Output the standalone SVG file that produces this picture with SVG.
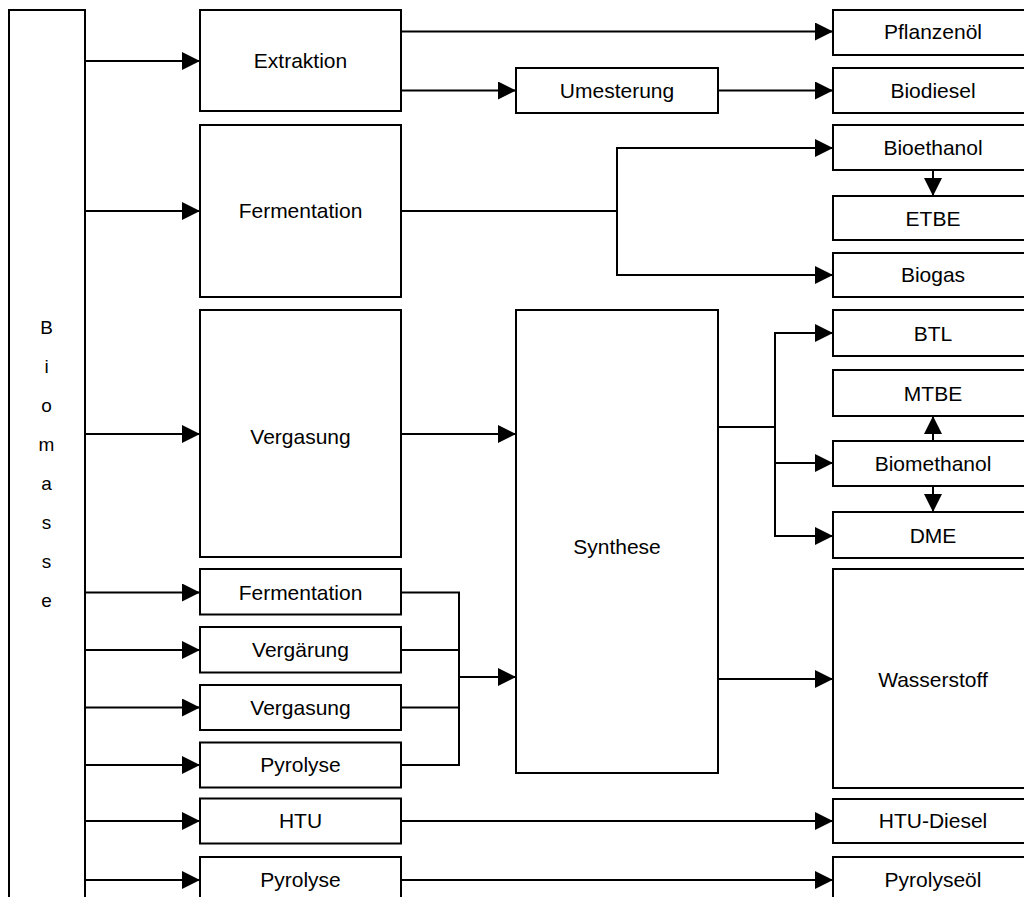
<svg xmlns="http://www.w3.org/2000/svg" width="1024" height="897" viewBox="0 0 1024 897">
<style>
.box{fill:#fff;stroke:#000;stroke-width:2}
.lbl{font-family:"Liberation Sans",Arial,sans-serif;font-size:21px;fill:#000;text-anchor:middle}
.bio{font-family:"Liberation Sans",Arial,sans-serif;font-size:19px;fill:#000;text-anchor:middle}
.c{fill:none;stroke:#000;stroke-width:2}
.a{marker-end:url(#arr)}
</style>
<defs>
<marker id="arr" markerUnits="userSpaceOnUse" markerWidth="18" markerHeight="18" refX="18" refY="9" orient="auto" viewBox="0 0 18 18">
<path d="M0,0 L18,9 L0,18 Z" fill="#000"/>
</marker>
</defs>
<rect width="1024" height="897" fill="#fff"/>

<g id="connectors">
<path class="c a" d="M85,61 H200"/>
<path class="c a" d="M85,211 H200"/>
<path class="c a" d="M85,434 H200"/>
<path class="c a" d="M85,592.5 H200"/>
<path class="c a" d="M85,650 H200"/>
<path class="c a" d="M85,707.5 H200"/>
<path class="c a" d="M85,765 H200"/>
<path class="c a" d="M85,821 H200"/>
<path class="c a" d="M85,880 H200"/>
<path class="c a" d="M401,31.5 H833"/>
<path class="c a" d="M401,90.5 H516"/>
<path class="c a" d="M718,90.5 H833"/>
<path class="c a" d="M401,211 H617 V148 H833"/>
<path class="c a" d="M617,211 V275 H833"/>
<path class="c a" d="M933,170 V196"/>
<path class="c a" d="M401,434 H516"/>
<path class="c" d="M718,427 H775"/>
<path class="c a" d="M775,463 V333 H833"/>
<path class="c a" d="M775,463 H833"/>
<path class="c a" d="M775,463 V536 H833"/>
<path class="c a" d="M933,441 V416"/>
<path class="c a" d="M933,486 V512"/>
<path class="c" d="M401,592.5 H459 V765 H401"/>
<path class="c" d="M401,650 H459"/>
<path class="c" d="M401,707.5 H459"/>
<path class="c a" d="M459,677 H516"/>
<path class="c a" d="M718,679 H833"/>
<path class="c a" d="M401,821 H833"/>
<path class="c a" d="M401,880 H833"/>
</g>

<g id="biomasse">
<rect class="box" x="9" y="10" width="76" height="900"/>
<text class="bio" x="46.5" y="334">B</text>
<text class="bio" x="46.5" y="373">i</text>
<text class="bio" x="46.5" y="412">o</text>
<text class="bio" x="46.5" y="451">m</text>
<text class="bio" x="46.5" y="490">a</text>
<text class="bio" x="46.5" y="529">s</text>
<text class="bio" x="46.5" y="568">s</text>
<text class="bio" x="46.5" y="607">e</text>
</g>

<g id="extraktion"><rect class="box" x="200" y="10" width="201" height="101"/><text class="lbl" x="300.5" y="68">Extraktion</text></g>
<g id="fermentation1"><rect class="box" x="200" y="125" width="201" height="172"/><text class="lbl" x="300.5" y="218">Fermentation</text></g>
<g id="vergasung1"><rect class="box" x="200" y="310" width="201" height="247"/><text class="lbl" x="300.5" y="444">Vergasung</text></g>
<g id="fermentation2"><rect class="box" x="200" y="569" width="201" height="45.5"/><text class="lbl" x="300.5" y="599.5">Fermentation</text></g>
<g id="vergaerung"><rect class="box" x="200" y="627" width="201" height="45.5"/><text class="lbl" x="300.5" y="657">Vergärung</text></g>
<g id="vergasung2"><rect class="box" x="200" y="685" width="201" height="45"/><text class="lbl" x="300.5" y="714.5">Vergasung</text></g>
<g id="pyrolyse1"><rect class="box" x="200" y="742.5" width="201" height="45"/><text class="lbl" x="300.5" y="772">Pyrolyse</text></g>
<g id="htu"><rect class="box" x="200" y="798.5" width="201" height="45"/><text class="lbl" x="300.5" y="828">HTU</text></g>
<g id="pyrolyse2"><rect class="box" x="200" y="857" width="201" height="60"/><text class="lbl" x="300.5" y="887">Pyrolyse</text></g>

<g id="umesterung"><rect class="box" x="516" y="68" width="202" height="45"/><text class="lbl" x="617" y="97.5">Umesterung</text></g>
<g id="synthese"><rect class="box" x="516" y="310" width="202" height="463"/><text class="lbl" x="617" y="554">Synthese</text></g>

<g id="pflanzenoel"><rect class="box" x="833" y="10" width="200" height="45"/><text class="lbl" x="933" y="39">Pflanzenöl</text></g>
<g id="biodiesel"><rect class="box" x="833" y="68" width="200" height="45"/><text class="lbl" x="933" y="97.5">Biodiesel</text></g>
<g id="bioethanol"><rect class="box" x="833" y="125" width="200" height="45"/><text class="lbl" x="933" y="155">Bioethanol</text></g>
<g id="etbe"><rect class="box" x="833" y="196" width="200" height="44"/><text class="lbl" x="933" y="225.5">ETBE</text></g>
<g id="biogas"><rect class="box" x="833" y="253" width="200" height="44"/><text class="lbl" x="933" y="282">Biogas</text></g>
<g id="btl"><rect class="box" x="833" y="310" width="200" height="46"/><text class="lbl" x="933" y="340.5">BTL</text></g>
<g id="mtbe"><rect class="box" x="833" y="370" width="200" height="46"/><text class="lbl" x="933" y="400.5">MTBE</text></g>
<g id="biomethanol"><rect class="box" x="833" y="441" width="200" height="45"/><text class="lbl" x="933" y="470.5">Biomethanol</text></g>
<g id="dme"><rect class="box" x="833" y="512" width="200" height="46"/><text class="lbl" x="933" y="542.5">DME</text></g>
<g id="wasserstoff"><rect class="box" x="833" y="569" width="200" height="219"/><text class="lbl" x="933" y="687">Wasserstoff</text></g>
<g id="htudiesel"><rect class="box" x="833" y="799" width="200" height="44"/><text class="lbl" x="933" y="828">HTU-Diesel</text></g>
<g id="pyrolyseoel"><rect class="box" x="833" y="857" width="200" height="60"/><text class="lbl" x="933" y="887">Pyrolyseöl</text></g>
</svg>
